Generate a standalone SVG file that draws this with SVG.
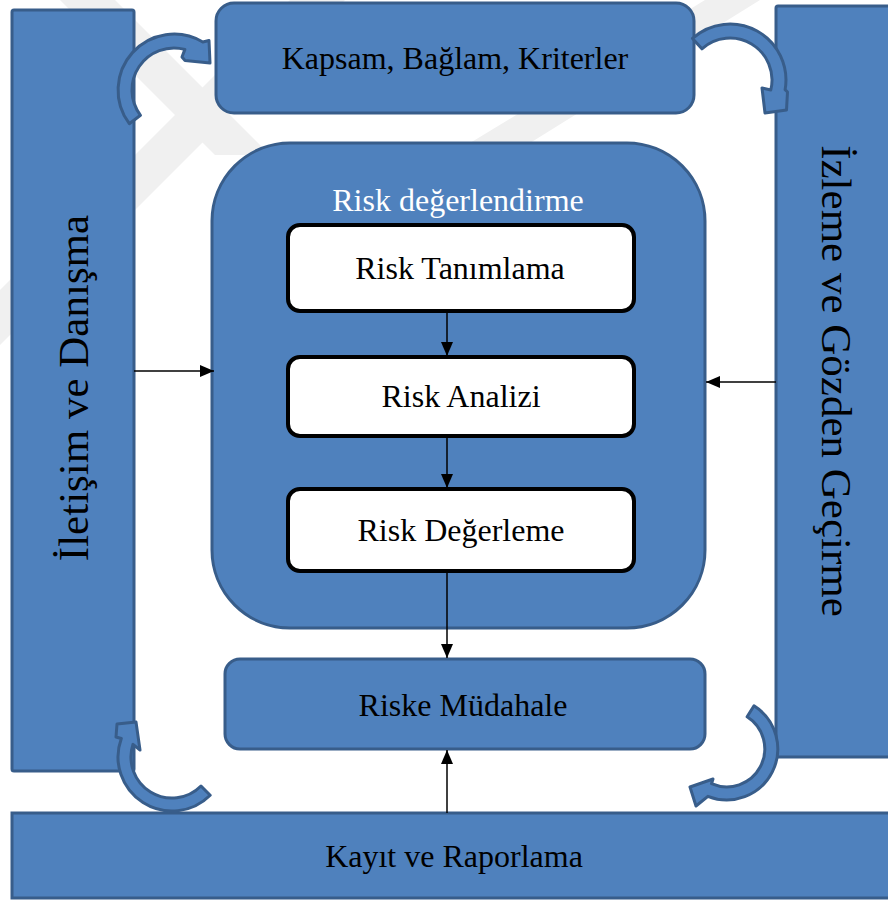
<svg xmlns="http://www.w3.org/2000/svg" width="888" height="901" viewBox="0 0 888 901">
  <defs>
    <style>
      .blue { fill: #4f81bd; stroke: #385d8a; stroke-width: 3; }
      .step { fill: #ffffff; stroke: #000000; stroke-width: 4; }
      .curl { fill: #4f81bd; stroke: #385d8a; stroke-width: 3; stroke-linejoin: round; }
      .conn { stroke: #000000; stroke-width: 1.5; fill: none; marker-end: url(#head); }
      .wm { fill: #f0f0f0; }
    </style>
    <marker id="head" markerUnits="userSpaceOnUse" markerWidth="14" markerHeight="12" refX="14" refY="6" orient="auto">
      <path d="M0,0 L14,6 L0,12 Z" fill="#000000"/>
    </marker>
  </defs>

  <rect width="888" height="901" fill="#ffffff"/>

  <!-- faint background watermark bands -->
  <g id="watermark">
    <polygon class="wm" points="705,0 760,0 530,143 470,143"/>
    <polygon class="wm" points="290,0 345,0 0,345 0,290"/>
    <polygon class="wm" points="60,0 115,0 270,155 215,155"/>
  </g>

  <g font-family="'Liberation Serif', 'Times New Roman', serif" font-size="32" text-anchor="middle" fill="#000000">
    <!-- side and bottom bars -->
    <g id="communication">
      <rect class="blue" x="12" y="10" width="122" height="761" rx="2"/>
      <text font-size="43" transform="translate(88,388) rotate(-90)">İletişim ve Danışma</text>
    </g>
    <g id="monitoring">
      <rect class="blue" x="776" y="6" width="120" height="751" rx="2"/>
      <text font-size="43" transform="translate(822,381) rotate(90)">İzleme ve Gözden Geçirme</text>
    </g>
    <g id="recording">
      <rect class="blue" x="12" y="813" width="890" height="85"/>
      <text x="454" y="867">Kayıt ve Raporlama</text>
    </g>

    <g id="scope">
      <rect class="blue" x="216" y="3" width="478" height="110" rx="18"/>
      <text x="455" y="69">Kapsam, Bağlam, Kriterler</text>
    </g>

    <!-- risk assessment container with its three steps -->
    <g id="assessment">
      <rect class="blue" x="212" y="143" width="493" height="485" rx="78"/>
      <text x="458" y="211" fill="#ffffff">Risk değerlendirme</text>
    </g>
    <g id="identification">
      <rect class="step" x="288" y="225" width="346" height="86" rx="12"/>
      <text x="460" y="279">Risk Tanımlama</text>
    </g>
    <g id="analysis">
      <rect class="step" x="288" y="357" width="346" height="79" rx="12"/>
      <text x="461" y="407">Risk Analizi</text>
    </g>
    <g id="evaluation">
      <rect class="step" x="288" y="489" width="346" height="82" rx="12"/>
      <text x="461" y="541">Risk Değerleme</text>
    </g>

    <g id="treatment">
      <rect class="blue" x="225" y="659" width="480" height="90" rx="15"/>
      <text x="463" y="716">Riske Müdahale</text>
    </g>
  </g>

  <!-- straight connectors -->
  <g id="connectors">
    <path class="conn" d="M447 313 V356"/>
    <path class="conn" d="M447 437 V488"/>
    <path class="conn" d="M447 573 V658"/>
    <path class="conn" d="M447 813 V750"/>
    <path class="conn" d="M134 371 H214"/>
    <path class="conn" d="M776 382 H706"/>
  </g>

  <!-- curved block arrows at the corners -->
  <g id="cycle-arrows">
    <path class="curl" d="M129.3 123.7 A56 56 0 0 1 202.8 42 L209 40.5 L210 63 L185 60.5 L182 57 L184.9 49.4 A42 42 0 0 0 140.5 115.3 Z"/>
    <path class="curl" d="M692.5 38.4 A56 56 0 0 1 785.1 89.7 L787.5 92 L786.5 110 L765 113 L762 88 L770.8 90 A42 42 0 0 0 701.9 48.8 Z"/>
    <path class="curl" d="M210.2 795.2 A54 54 0 0 1 121.3 738.5 L116 737 L117 724 L136 722 L140 750 L133 744.3 A41 41 0 0 0 201 786 Z"/>
    <path class="curl" d="M754 705.8 A51 51 0 0 1 707.9 796.3 L696 806 L690 787 L713 779 L711.5 783.7 A38 38 0 0 0 747.1 716.8 Z"/>
  </g>
</svg>
